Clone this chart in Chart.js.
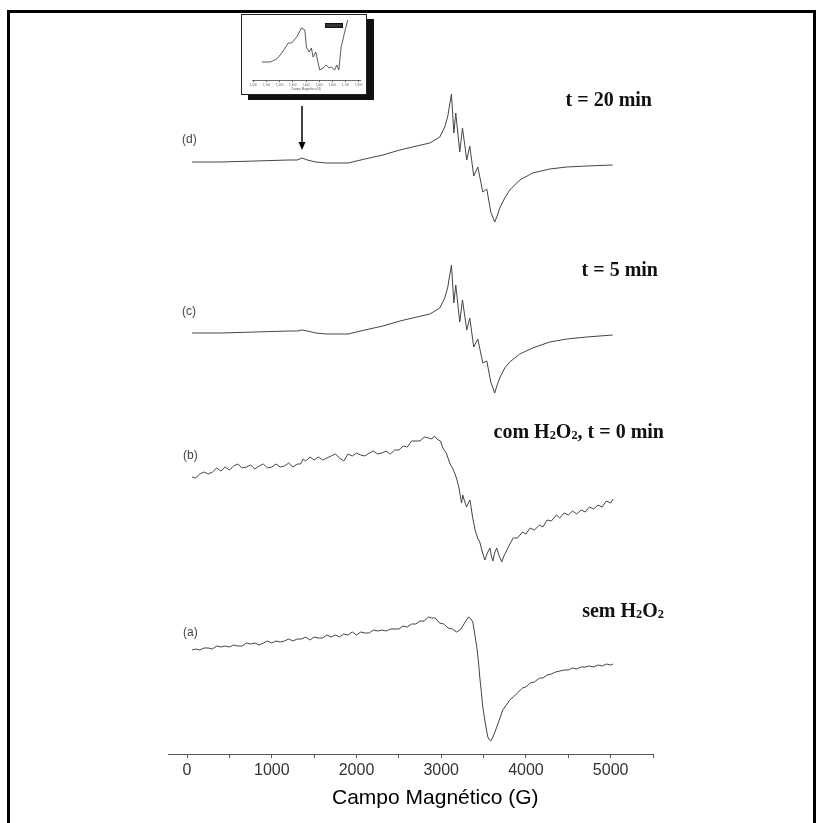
<!DOCTYPE html>
<html>
<head>
<meta charset="utf-8">
<script src="https://cdn.jsdelivr.net/npm/chart.js@4.4.1/dist/chart.umd.min.js"></script>
<style>
  html, body { margin: 0; padding: 0; background: #fff; width: 826px; height: 823px; overflow: hidden; }
  #main { position: absolute; left: 0; top: 0; }
  .frame { position: absolute; left: 7px; top: 10px; width: 803px; height: 900px; border: 3px solid #000; }
  .tag { position: absolute; font: 12px "Liberation Sans", Arial, sans-serif; color: #444; line-height: 12px; }
  .note { position: absolute; font: bold 20px "Liberation Serif", "Times New Roman", serif; color: #111; line-height: 20px; white-space: nowrap; }
  .note sub { font-size: 0.62em; vertical-align: -0.12em; line-height: 0; }
  .axisTitle { position: absolute; left: 332px; width: 200px; top: 785px; text-align: center; font: 21px "Liberation Sans", Arial, sans-serif; color: #000; line-height: 24px; white-space: nowrap; }
  #inset { position: absolute; left: 241px; top: 14px; width: 124px; height: 79px; border: 1px solid #222; background: #fff; box-shadow: 7px 5px 0 #111; }
  #insetChart { position: absolute; left: 0; top: 0; }
  .insetKey { position: absolute; left: 83px; top: 8px; width: 16px; height: 3px; background: #333; border: 1px solid #111; }
  #arrow { position: absolute; left: 296px; top: 106px; }
</style>
</head>
<body>
<canvas id="main" width="826" height="823"></canvas>
<div class="frame"></div>

<div class="tag" style="left:182px; top:133px;">(d)</div>
<div class="tag" style="left:182px; top:305px;">(c)</div>
<div class="tag" style="left:183px; top:449px;">(b)</div>
<div class="tag" style="left:183px; top:626px;">(a)</div>

<div class="note" style="right:174px; top:89px;">t = 20 min</div>
<div class="note" style="right:168px; top:259px;">t = 5 min</div>
<div class="note" style="right:162px; top:421px;">com H<sub>2</sub>O<sub>2</sub>, t = 0 min</div>
<div class="note" style="right:162px; top:600px;">sem H<sub>2</sub>O<sub>2</sub></div>

<div class="axisTitle">Campo Magnético (G)</div>

<div id="inset">
  <canvas id="insetChart" width="124" height="79"></canvas>
  <div class="insetKey"></div>
</div>

<svg id="arrow" width="12" height="46">
  <line x1="6" y1="0" x2="6" y2="38" stroke="#000" stroke-width="1.5"/>
  <polygon points="2.5,36 9.5,36 6,44" fill="#000"/>
</svg>

<script>
// magnetic field (G) and signal (a.u.) for each spectrum
const fieldA = [60,100,150,200,250,300,350,400,450,500, 550,600,650,700,750,800,850,900,950,1000,
  1050,1100,1150,1200,1250,1300,1350,1400,1450,1500, 1550,1600,1650,1700,1750,1800,1850,1900,1950,2000,
  2050,2100,2150,2200,2250,2300,2350,2400,2450,2500, 2550,2600,2650,2700,2750,2800,2850,2890,2930,2980,
  3030,3080,3130,3180,3220,3255,3290,3325,3350,3373, 3400,3420,3440,3455,3475,3491,3520,3550,3570,3585,
  3605,3630,3656,3690,3726,3760,3809,3850,3900,3960, 4000,4050,4100,4160,4200,4250,4300,4350,4400,4450,
  4500,4550,4600,4650,4700,4750,4800,4850,4900,4950, 5000,5030];
const signalA = [0,1,0,2,2,1,4,3,4,3, 5,4,4,7,6,7,5,7,9,7,
  9,8,9,11,9,11,11,13,10,13, 12,12,15,13,15,13,16,15,18,15,
  18,17,17,20,19,20,19,21,21,21, 24,23,26,26,29,29,33,32,32,27,
  26,22,21,18,20,24,29,33,31,28, 14,3,-12,-27,-43,-57,-73,-87,-90,-91,
  -88,-83,-77,-69,-60,-56,-50,-47,-43,-38, -37,-33,-32,-28,-28,-25,-24,-22,-21,-20,
  -20,-18,-19,-17,-17,-16,-17,-15,-16,-14, -15,-14];

const fieldB = [60,100,150,200,250,300,350,400,450,500, 550,600,650,700,750,800,850,900,950,1000,
  1050,1100,1150,1200,1250,1300,1340,1370,1400,1450, 1500,1550,1600,1650,1700,1750,1800,1850,1900,1950,
  2000,2050,2100,2150,2200,2250,2300,2350,2400,2450, 2500,2550,2600,2650,2700,2750,2800,2850,2890,2920,
  2950,2990,3020,3060,3100,3140,3180,3210,3240,3255, 3275,3300,3320,3340,3370,3400,3430,3455,3485,3515,
  3545,3575,3590,3610,3630,3655,3685,3715,3740,3770, 3810,3850,3900,3960,4000,4050,4100,4160,4200,4250,
  4300,4360,4400,4450,4500,4550,4600,4650,4700,4750, 4800,4850,4900,4950,5000,5030];
const signalB = [0,-1,3,5,3,5,9,6,10,7, 11,13,9,10,12,8,11,13,9,10,
  13,10,11,14,10,13,13,18,16,20, 17,20,17,19,21,23,19,16,23,21,
  24,22,21,24,26,23,24,26,23,27, 27,31,30,36,36,36,40,39,38,41,
  38,36,29,24,14,8,-1,-11,-26,-18, -24,-30,-26,-23,-40,-53,-61,-65,-75,-83,
  -76,-71,-78,-84,-76,-71,-79,-85,-79,-74, -67,-61,-61,-55,-57,-51,-53,-48,-50,-43,
  -44,-38,-41,-36,-38,-34,-37,-33,-35,-30, -32,-28,-30,-24,-26,-22];

const fieldCD = [59,400,800,1200,1300,1356,1420,1520,1650,1899, 2100,2311,2512,2712,2866,2983,3042,3078,3101,3121,
  3149,3172,3219,3251,3302,3337,3384,3432,3491,3538, 3585,3632,3660,3691,3750,3809,3927,4080,4281,4481,
  4717,5024];
const signalC = [0,0,1,2,2,3,2,0,-1,-1, 3,7,12,16,19,25,35,46,58,68,
  30,48,11,33,3,15,-14,-6,-30,-28, -49,-60,-52,-45,-35,-29,-21,-15,-9,-6,
  -4,-2];
const signalD = [0,0,1,2,2,4,2,0,-1,-1, 3,7,12,16,19,25,35,46,58,68,
  29,49,10,34,2,16,-14,-5,-30,-27, -50,-60,-54,-46,-36,-28,-18,-11,-7,-5,
  -4,-3];

// vertical stacking offset of each trace: a, b, c, d
const traceOffsets = [104, 277, 421, 592];

const fieldTicks = [0,500,1000,1500,2000,2500,3000,3500,4000,4500,5000,5500];

// inset: zoom on the weak line near 1350 G
const insetField = [1065,1128,1178,1216,1266,1291,1329,1366,1391,1403,1424,1441,1454,1474,1504,1529,1554,1574,1592,1617,1634,1649,1667,1692,1717];
const insetSignal = [18,18,21,27,37,37,43,52,50,33,28,32,23,28,10,12,15,12,13,10,15,10,33,47,60];
const insetTicks = [1000,1100,1200,1300,1400,1500,1600,1700,1800];

function trace(field, signal, offset) {
  return field.map((g, i) => ({ x: g, y: signal[i] + offset }));
}

const lineStyle = { borderColor: '#444', borderWidth: 1, pointRadius: 0, tension: 0, fill: false };

new Chart(document.getElementById('main'), {
  type: 'line',
  data: {
    datasets: [
      { label: '(a) sem H2O2', data: trace(fieldA, signalA, traceOffsets[0]), ...lineStyle },
      { label: '(b) com H2O2, t = 0 min', data: trace(fieldB, signalB, traceOffsets[1]), ...lineStyle },
      { label: '(c) t = 5 min', data: trace(fieldCD, signalC, traceOffsets[2]), ...lineStyle },
      { label: '(d) t = 20 min', data: trace(fieldCD, signalD, traceOffsets[3]), ...lineStyle }
    ]
  },
  options: {
    responsive: false,
    devicePixelRatio: 1,
    animation: false,
    events: [],
    layout: { padding: { left: 168, right: 173, top: 10, bottom: 0 } },
    plugins: { legend: { display: false }, tooltip: { enabled: false } },
    scales: {
      x: {
        type: 'linear',
        position: 'bottom',
        min: -225,
        max: 5500,
        afterBuildTicks: (scale) => { scale.ticks = fieldTicks.map(v => ({ value: v })); },
        afterFit: (scale) => { scale.height = 69; },
        ticks: {
          autoSkip: false,
          maxRotation: 0,
          padding: 3,
          color: '#333',
          font: { family: '"Liberation Sans", Arial, sans-serif', size: 16 },
          callback: (v) => (v % 1000 === 0 && v <= 5000) ? String(v) : ''
        },
        grid: { drawOnChartArea: false, drawTicks: true, tickLength: 4, tickColor: '#555', tickWidth: 1 },
        border: { display: true, color: '#555', width: 1 },
        title: { display: false }
      },
      y: { display: false, min: 0, max: 744 }
    }
  }
});

new Chart(document.getElementById('insetChart'), {
  type: 'line',
  data: {
    datasets: [{ label: 'inset', data: trace(insetField, insetSignal, 0), borderColor: '#333', borderWidth: 0.8, pointRadius: 0, tension: 0 }]
  },
  options: {
    responsive: false,
    devicePixelRatio: 1,
    animation: false,
    events: [],
    layout: { padding: { left: 10, right: 6, top: 3, bottom: 0 } },
    plugins: { legend: { display: false }, tooltip: { enabled: false } },
    scales: {
      x: {
        type: 'linear',
        min: 990,
        max: 1810,
        afterBuildTicks: (scale) => { scale.ticks = insetTicks.map(v => ({ value: v })); },
        afterFit: (scale) => { scale.height = 14; },
        ticks: { autoSkip: false, maxRotation: 0, padding: 1, color: '#666', font: { size: 3 } },
        grid: { drawOnChartArea: false, tickLength: 2, tickColor: '#555' },
        border: { display: true, color: '#444', width: 0.8 },
        title: { display: true, text: 'Campo Magnético (G)', color: '#555', font: { size: 3 }, padding: { top: 0, bottom: 3 } }
      },
      y: { display: false, min: 0, max: 62 }
    }
  }
});
</script>
</body>
</html>
